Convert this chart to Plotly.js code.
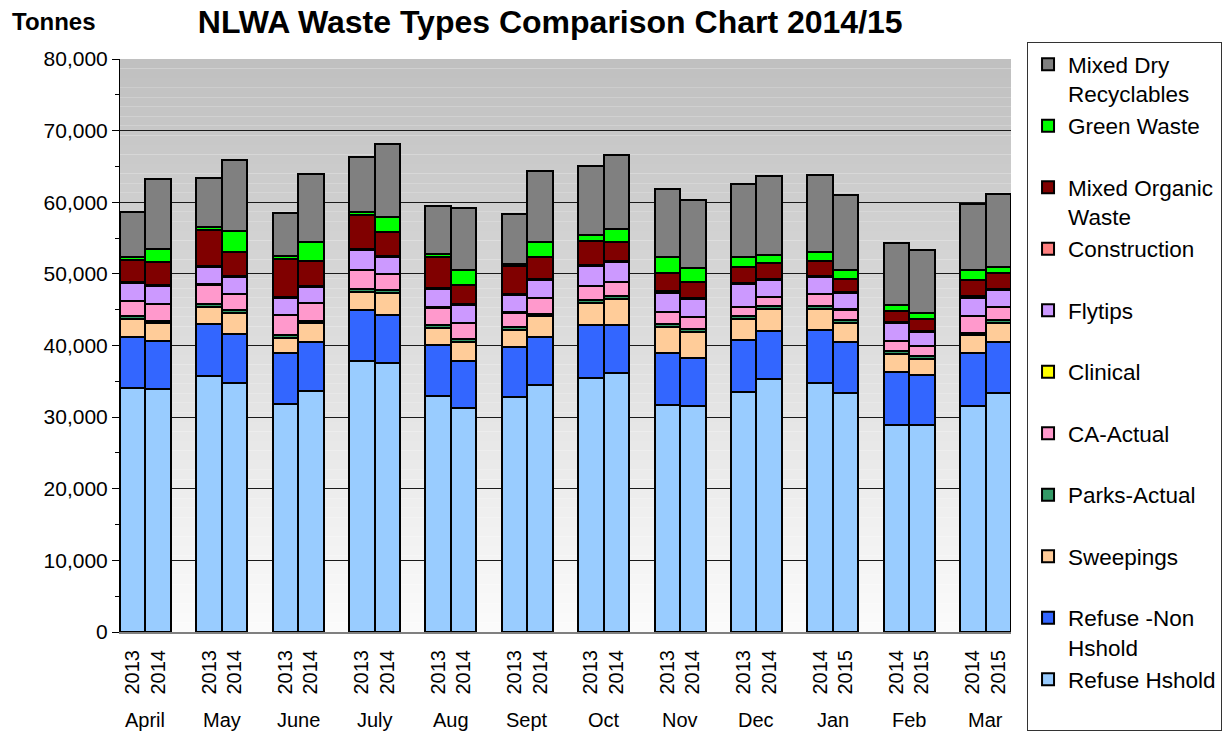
<!DOCTYPE html>
<html>
<head>
<meta charset="utf-8">
<script src="https://cdn.plot.ly/plotly-3.0.1.min.js"></script>
<style>
  html, body { margin: 0; padding: 0; background: #ffffff; }
  #chart { width: 1231px; height: 731px; }
</style>
</head>
<body>
<div id="chart"></div>
<script>
// ---- Data (tonnes) ----
const months = ['April','May','June','July','Aug','Sept','Oct','Nov','Dec','Jan','Feb','Mar'];
const years = [
  ['2013','2014'],['2013','2014'],['2013','2014'],['2013','2014'],
  ['2013','2014'],['2013','2014'],['2013','2014'],['2013','2014'],
  ['2013','2014'],['2014','2015'],['2014','2015'],['2014','2015']
];

// each array: 24 values, month by month, first year then second year
const refuseHshold   = [34000,33900, 35800,34800, 31800,33700, 37800,37600, 33000,31300, 32800,34500, 35500,36100, 31700,31500, 33500,35300, 34800,33400, 28900,28900, 31600,33400];
const refuseNonHshold= [7200,6700, 7200,6800, 7100,6800, 7100,6700, 7100,6600, 7000,6700, 7400,6800, 7300,6700, 7300,6700, 7400,7100, 7400,7000, 7400,7100];
const sweepings      = [2500,2500, 2400,3000, 2200,2600, 2600,3100, 2400,2600, 2400,2900, 3000,3600, 3600,3700, 2900,3100, 2900,2700, 2500,2200, 2400,2700];
const parksActual    = [350,350, 350,350, 350,350, 350,350, 350,350, 350,350, 500,400, 400,400, 400,400, 400,400, 400,400, 350,400];
const caActual       = [2150,2350, 2750,2250, 2750,2450, 2650,2250, 2450,2250, 2050,2150, 1900,2000, 1700,1700, 1300,1300, 1700,1400, 1400,1400, 2350,1750];
const clinical       = [30,30, 30,30, 30,30, 30,30, 30,30, 30,30, 30,30, 30,30, 30,30, 30,30, 30,30, 30,30];
const flytips        = [2470,2470, 2470,2270, 2370,2270, 2770,2370, 2570,2470, 2470,2570, 2770,2670, 2670,2470, 3170,2370, 2270,2270, 2470,1970, 2570,2420];
const construction   = [150,150, 150,150, 150,150, 150,150, 150,150, 150,150, 150,150, 150,150, 150,150, 150,150, 150,150, 150,150];
const mixedOrganic   = [3150,3250, 4950,3450, 5350,3450, 4750,3250, 4350,2750, 3850,3050, 3350,2650, 2550,2250, 2150,2150, 2150,1850, 1550,1650, 2250,2150];
const greenWaste     = [300,1800, 400,2900, 400,2600, 500,2100, 400,2100, 300,2000, 800,1800, 2300,1900, 1400,1100, 1200,1200, 800,800, 1400,900];
const mixedDry       = [6400,9700, 6900,9900, 6000,9600, 7600,10300, 6700,8600, 7000,9900, 9700,10400, 9400,9500, 10200,11000, 10800,10500, 8700,8900, 9300,10100];

const seriesNames = ['Refuse Hshold','Refuse -Non<br>Hshold','Sweepings','Parks-Actual','CA-Actual','Clinical','Flytips','Construction','Mixed Organic<br>Waste','Green Waste','Mixed Dry<br>Recyclables'];
const seriesValues = [refuseHshold, refuseNonHshold, sweepings, parksActual, caActual, clinical, flytips, construction, mixedOrganic, greenWaste, mixedDry];
const seriesColors = ['#99ccff','#3366ff','#ffcc99','#339966','#ff99cc','#ffff00','#cc99ff','#ff8080','#800000','#00ff00','#808080'];

// ---- Positions: two bars per month plus one blank slot between months ----
const xPos = [];
const yearTicks = [];
months.forEach((m, mi) => {
  years[mi].forEach((yr, yi) => { xPos.push(mi * 3 + yi); yearTicks.push(yr); });
});

const FONT = 'Liberation Sans, Arial, Helvetica, sans-serif';

const traces = seriesNames.map((name, k) => ({
  type: 'bar',
  name: name.indexOf('<br>') >= 0 ? name : name + '<br>&nbsp;',
  x: xPos,
  y: seriesValues[k],
  width: 1,
  marker: { color: seriesColors[k], line: { color: '#000000', width: 2 } },
  hoverinfo: 'skip'
}));

// background gradient bands
const shapes = [];
const N = 60;
for (let i = 0; i < N; i++) {
  const t = i / (N - 1);
  const c = Math.round(0xc0 + (0xfb - 0xc0) * t);
  const col = 'rgb(' + c + ',' + c + ',' + c + ')';
  shapes.push({
    type: 'rect', xref: 'paper', yref: 'paper', layer: 'below',
    x0: 0, x1: 1, y0: 1 - (i + 1) / N, y1: 1 - i / N,
    fillcolor: col, line: { width: 0 }
  });
}

const annotations = months.map((m, mi) => ({
  x: mi * 3 + 0.5, xref: 'x', y: -0.154, yref: 'paper',
  text: m, showarrow: false, xanchor: 'center', yanchor: 'middle',
  font: { family: FONT, size: 20, color: '#000' }
}));
annotations.push({
  x: -0.1235, xref: 'paper', y: 1.066, yref: 'paper',
  text: '<b>Tonnes</b>', showarrow: false, xanchor: 'left', yanchor: 'middle',
  font: { family: FONT, size: 24, color: '#000' }
});

const layout = {
  width: 1231, height: 731,
  margin: { l: 120, r: 220, t: 59, b: 99, pad: 0, autoexpand: false },
  paper_bgcolor: '#ffffff',
  plot_bgcolor: 'rgba(0,0,0,0)',
  barmode: 'stack',
  bargap: 0,
  showlegend: true,
  hovermode: false,
  title: {
    text: '<b>NLWA Waste Types Comparison Chart 2014/15</b>',
    x: 0.447, xanchor: 'center', y: 0.97, yanchor: 'middle',
    font: { family: FONT, size: 32, color: '#000' }
  },
  xaxis: {
    type: 'linear',
    range: [-0.5, 34.5],
    tickmode: 'array',
    tickvals: xPos,
    ticktext: yearTicks,
    tickangle: -90,
    ticks: '',
    ticklabelstandoff: 8,
    showgrid: false,
    zeroline: false,
    showline: true, linecolor: '#808080', linewidth: 2,
    tickfont: { family: FONT, size: 20, color: '#000' },
    automargin: false,
    fixedrange: true
  },
  yaxis: {
    range: [0, 80000],
    tickmode: 'array',
    tickvals: [0,10000,20000,30000,40000,50000,60000,70000,80000],
    tickformat: ',',
    ticks: 'outside', ticklen: 7, tickcolor: '#000', tickwidth: 1,
    minor: { dtick: 5000, ticks: 'outside', ticklen: 4, tickcolor: '#000', showgrid: false },
    showgrid: true, gridcolor: '#1a1a1a', gridwidth: 1,
    zeroline: false,
    showline: true, linecolor: '#000', linewidth: 1,
    tickfont: { family: FONT, size: 21, color: '#000' },
    automargin: false,
    fixedrange: true
  },
  legend: {
    x: 1.018, xanchor: 'left',
    yref: 'container', y: 0.9425, yanchor: 'top',
    maxheight: 720,
    traceorder: 'reversed',
    valign: 'top',
    bgcolor: '#ffffff', bordercolor: '#333333', borderwidth: 1,
    font: { family: FONT, size: 22.5, color: '#000' }
  },
  shapes: shapes,
  annotations: annotations
};

Plotly.newPlot('chart', traces, layout, { displayModeBar: false, staticPlot: true });
</script>
</body>
</html>
